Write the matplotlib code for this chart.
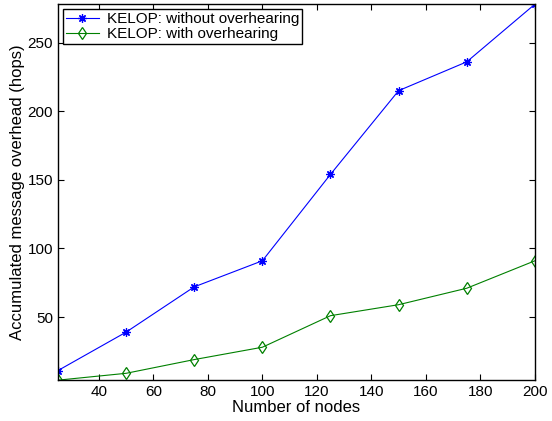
import matplotlib
matplotlib.use("Agg")
import matplotlib.pyplot as plt

nodes = [25, 50, 75, 100, 125, 150, 175, 200]
without_oh = [11, 39, 72, 91, 154, 215, 236, 278]
with_oh = [4, 9, 19, 28, 51, 59, 71, 91]

plt.rcParams['font.family'] = ['Liberation Sans', 'DejaVu Sans']
fig = plt.figure(figsize=(5.52, 4.21), dpi=100)
ax = fig.add_axes([0.105, 0.097, 0.864, 0.893])
ax.plot(nodes, without_oh, color='blue', marker=(8, 2, 0), markersize=6, lw=0.8,
        markeredgewidth=0.9, label='KELOP: without overhearing')
ax.plot(nodes, with_oh, color='green', marker='d', markersize=6, lw=0.8,
        markeredgewidth=0.9, markerfacecolor='none', label='KELOP: with overhearing')
ax.set_xlim(25, 200)
ax.set_ylim(4, 278)
ax.set_xticks([40, 60, 80, 100, 120, 140, 160, 180, 200])
ax.set_yticks([50, 100, 150, 200, 250])
ax.tick_params(direction='in', labelsize=11, length=4, top=True, right=True)
for s in ax.spines.values():
    s.set_linewidth(1.0)
ax.set_xlabel('Number of nodes', fontsize=12, labelpad=1)
ax.set_ylabel('Accumulated message overhead (hops)', fontsize=12, labelpad=2)
leg = ax.legend(loc='upper left', fontsize=11, fancybox=False, edgecolor='black',
                framealpha=1, borderpad=0.2, handlelength=2.2, labelspacing=0.1,
                borderaxespad=0.3, handletextpad=0.5)
leg.get_frame().set_linewidth(1.0)
fig.savefig('out.png', dpi=100)
